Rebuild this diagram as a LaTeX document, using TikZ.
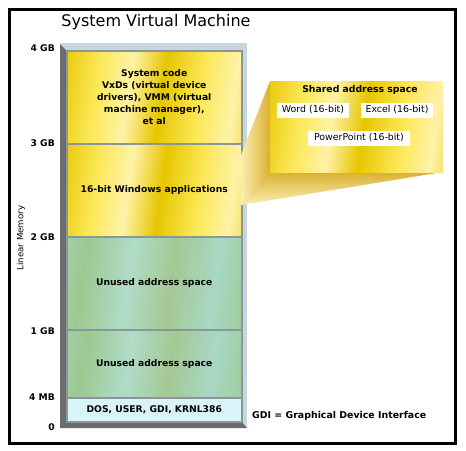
\documentclass[tikz,border=0pt]{standalone}
\usepackage{fontspec}
\setmainfont{DejaVu Sans}
\definecolor{gA}{HTML}{F0D030}
\definecolor{gB}{HTML}{FCE858}
\definecolor{gC}{HTML}{E6C600}
\definecolor{gD}{HTML}{FFF2A8}
\definecolor{gE}{HTML}{D8B820}
\definecolor{nA}{HTML}{A4C894}
\definecolor{nB}{HTML}{A8D8C4}
\definecolor{nC}{HTML}{9CC890}
\definecolor{nD}{HTML}{B0DCC8}
\definecolor{colLight}{HTML}{C6D6DC}
\definecolor{colDark}{HTML}{6C6C6C}
\definecolor{sepGray}{HTML}{8A969A}
\definecolor{dosFill}{HTML}{D8F4F8}
\definecolor{sideLight}{HTML}{FBEEB4}
\definecolor{sideDark}{HTML}{DAB030}
\pgfdeclarehorizontalshading{goldsh}{100bp}{color(0bp)=(gA); color(8bp)=(gB); color(20bp)=(gC); color(32bp)=(gB); color(42bp)=(gD); color(52bp)=(gC); color(64bp)=(gB); color(74bp)=(gD); color(86bp)=(gC); color(100bp)=(gE)}
\pgfdeclarehorizontalshading{greensh}{100bp}{color(0bp)=(nA); color(15bp)=(nB); color(28bp)=(nC); color(42bp)=(nD); color(55bp)=(nA); color(68bp)=(nB); color(82bp)=(nC); color(100bp)=(nA)}
\begin{document}
\begin{tikzpicture}[x=1pt,y=-1pt,
  goldbox/.style={shade, shading=goldsh, shading angle=-8, draw=sepGray, line width=1.5pt, anchor=north west, inner sep=2pt, align=center, font=\bfseries\fontsize{9.2}{12}\selectfont},
  greenbox/.style={shade, shading=greensh, shading angle=-8, draw=sepGray, line width=1.5pt, anchor=north west, inner sep=2pt, align=center, font=\bfseries\fontsize{9.2}{12}\selectfont},
  gblabel/.style={anchor=east, inner sep=0pt, font=\bfseries\fontsize{9.2}{10}\selectfont},
  appbox/.style={fill=white, inner sep=2pt, font=\fontsize{9.4}{10}\selectfont}]
\useasboundingbox (0,0) rectangle (466,450);
\fill[white] (0,0) rectangle (466,450);
\draw[line width=3pt] (9.5,9.5) rectangle (455.5,443.5);
\node[font=\fontsize{16}{18}\selectfont, inner sep=0pt] (title) at (156,22) {System Virtual Machine};
% column frame
\fill[colLight] (60,43) rectangle (247,428);
\fill[colDark] (60,44) -- (66,50) -- (66,421) -- (241,421) -- (247,428) -- (60,428) -- cycle;
% boxes
\node[goldbox, minimum width=175pt, minimum height=93pt] (sys) at (66,50) {System code\\VxDs (virtual device\\drivers), VMM (virtual\\machine manager),\\et al};
\node[goldbox, minimum width=175pt, minimum height=93pt] (win) at (66,143) {16-bit Windows applications};
\node[greenbox, minimum width=175pt, minimum height=93pt] (un1) at (66,236) {Unused address space};
\node[greenbox, minimum width=175pt, minimum height=68pt] (un2) at (66,329) {Unused address space};
\node[draw=sepGray, line width=1.5pt, fill=dosFill, anchor=north west, minimum width=175pt, minimum height=24pt, inner sep=1pt, font=\bfseries\fontsize{9.2}{10}\selectfont] (dos) at (66,397) {DOS, USER, GDI, KRNL386};
% labels
\node[gblabel] (l4g) at (55,48) {4 GB};
\node[gblabel] (l3g) at (55,143) {3 GB};
\node[gblabel] (l2g) at (55,237) {2 GB};
\node[gblabel] (l1g) at (55,331) {1 GB};
\node[gblabel] (l4m) at (55,397) {4 MB};
\node[gblabel] (l0) at (55,427) {0};
\node[rotate=90, inner sep=0pt, font=\fontsize{8.6}{10}\selectfont] (lm) at (21,238) {Linear Memory};
% callout wedge
\shade[left color=sideLight, right color=sideDark] (241,155) -- (270,81) -- (270,172) -- (241,205) -- cycle;
\shade[top color=sideDark, bottom color=sideLight] (270,172) -- (443,172) -- (241,205) -- cycle;
\node[shade, shading=goldsh, shading angle=-8, anchor=north west, minimum width=173pt, minimum height=91pt, inner sep=0pt] (shared) at (270,81) {};
\node[font=\bfseries\fontsize{9.3}{10}\selectfont, inner sep=0pt] (stitle) at (360,90) {Shared address space};
\node[appbox, minimum width=72pt, minimum height=15pt] (word) at (313,110) {Word (16-bit)};
\node[appbox, minimum width=72pt, minimum height=15pt] (excel) at (397,110) {Excel (16-bit)};
\node[appbox, minimum width=102pt, minimum height=15pt] (ppt) at (359,138) {PowerPoint (16-bit)};
\node[anchor=west, inner sep=0pt, font=\bfseries\fontsize{9.4}{10}\selectfont] (gdi) at (252,416) {GDI = Graphical Device Interface};
\end{tikzpicture}
\end{document}
